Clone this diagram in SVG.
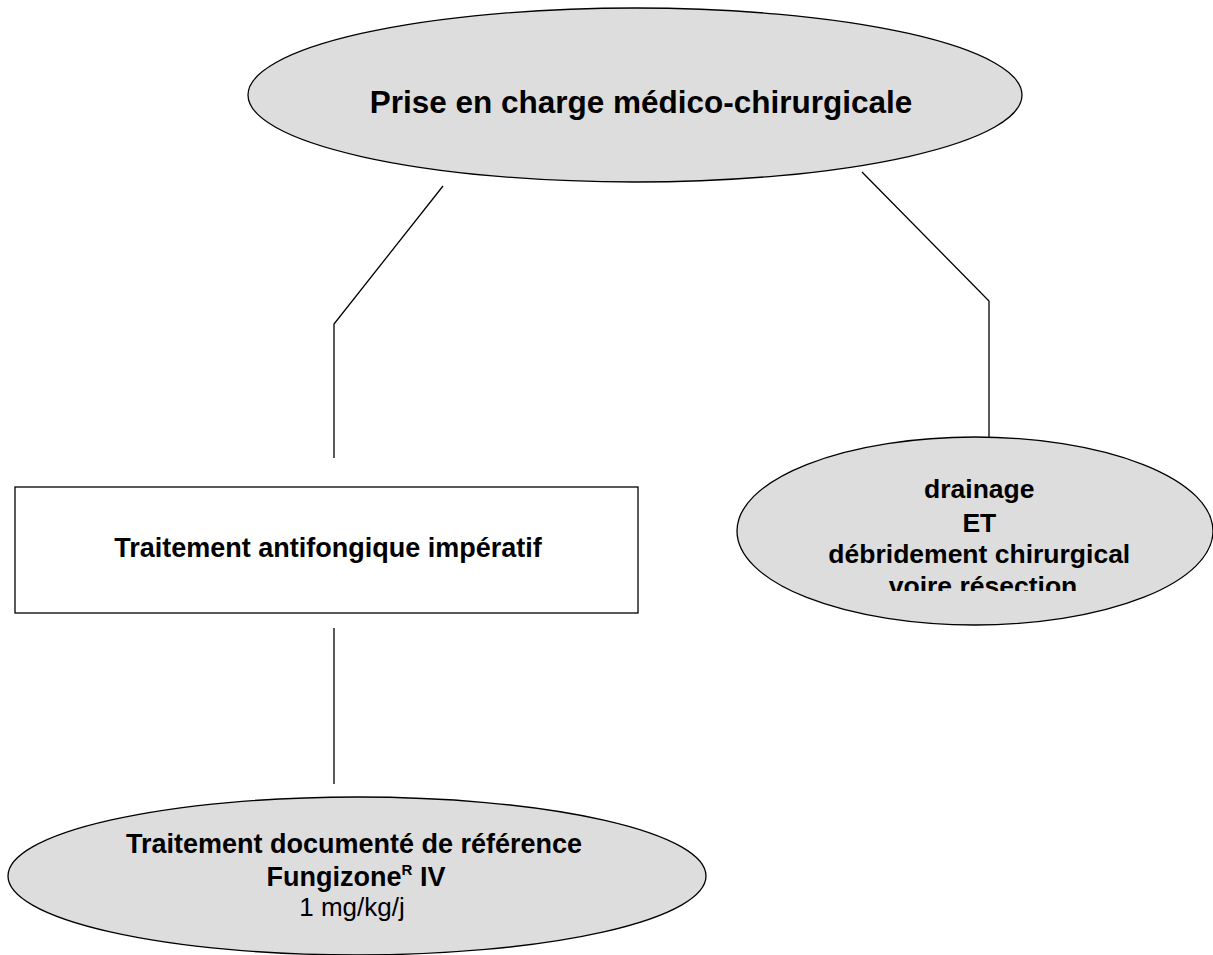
<svg xmlns="http://www.w3.org/2000/svg" width="1213" height="955" viewBox="0 0 1213 955">
  <style>
    .oval { fill: #dddddd; stroke: #000; stroke-width: 1.3; }
    .box { fill: #fff; stroke: #000; stroke-width: 1.3; }
    .link { fill: none; stroke: #000; stroke-width: 1.3; }
    .t { font-family: "Liberation Sans", Arial, sans-serif; fill: #000; text-anchor: middle; }
    .b { font-weight: bold; }
  </style>
  <defs>
    <clipPath id="clipRight">
      <rect x="737" y="430" width="476" height="161"/>
    </clipPath>
  </defs>
  <rect width="1213" height="955" fill="#fff"/>

  <g id="connectors">
    <polyline class="link" points="443,186 334,324 334,458"/>
    <polyline class="link" points="862,172 989,301 989,437"/>
    <line class="link" x1="334" y1="628" x2="334" y2="784"/>
  </g>

  <g id="node-prise">
    <ellipse class="oval" cx="635" cy="95" rx="387" ry="87"/>
    <text class="t b" x="641" y="113" font-size="31.5">Prise en charge médico-chirurgicale</text>
  </g>

  <g id="node-traitement">
    <rect class="box" x="15" y="487" width="623" height="126"/>
    <text class="t b" x="328" y="557" font-size="27">Traitement antifongique impératif</text>
  </g>

  <g id="node-drainage">
    <ellipse class="oval" cx="975" cy="531" rx="238" ry="94"/>
    <g clip-path="url(#clipRight)">
      <text class="t b" font-size="26.5">
        <tspan x="983" y="498">drainage</tspan>
        <tspan x="983" y="532">ET</tspan>
        <tspan x="983" y="563">débridement chirurgical</tspan>
        <tspan x="983" y="595">voire résection</tspan>
      </text>
    </g>
  </g>

  <g id="node-fungizone">
    <ellipse class="oval" cx="357" cy="876" rx="349" ry="79"/>
    <text class="t b" x="354" y="853" font-size="27">Traitement documenté de référence</text>
    <text class="t b" x="356" y="886" font-size="27">Fungizone<tspan font-size="15" dy="-11">R</tspan><tspan dy="11"> IV</tspan></text>
    <text class="t" x="352" y="916" font-size="26">1 mg/kg/j</text>
  </g>
</svg>
